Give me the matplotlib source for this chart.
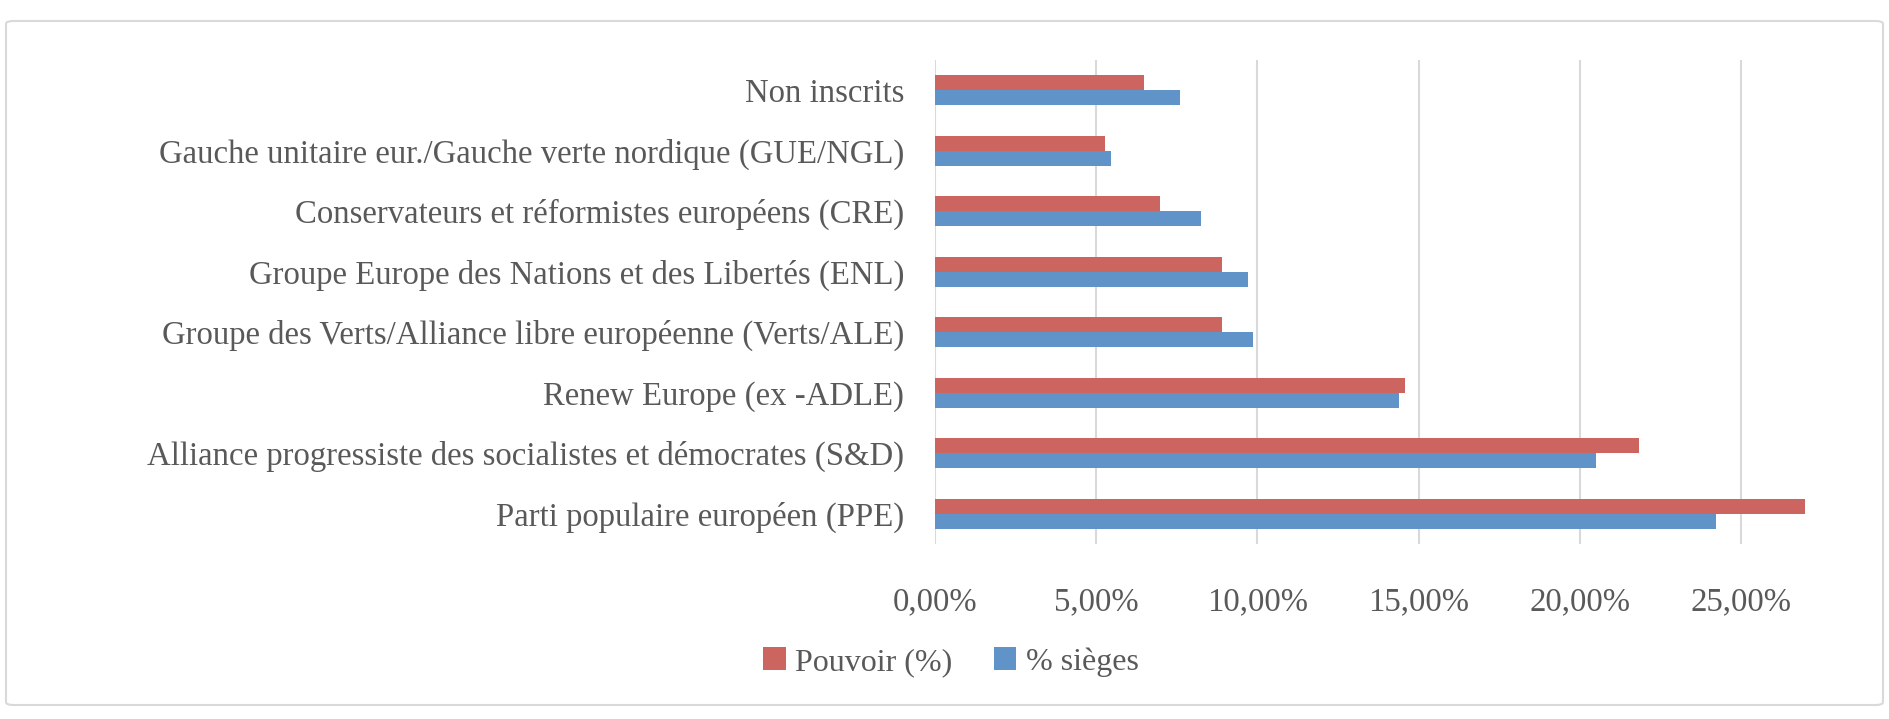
import matplotlib.pyplot as plt
import numpy as np
from matplotlib.patches import FancyBboxPatch
from matplotlib.ticker import FuncFormatter

groupes = [
    "Non inscrits",
    "Gauche unitaire eur./Gauche verte nordique (GUE/NGL)",
    "Conservateurs et réformistes européens (CRE)",
    "Groupe Europe des Nations et des Libertés (ENL)",
    "Groupe des Verts/Alliance libre européenne (Verts/ALE)",
    "Renew Europe (ex -ADLE)",
    "Alliance progressiste des socialistes et démocrates (S&D)",
    "Parti populaire européen (PPE)",
]
pouvoir = [0.0649, 0.0527, 0.0698, 0.0890, 0.0890, 0.1459, 0.2184, 0.2700]
sieges = [0.0759, 0.0546, 0.0826, 0.0972, 0.0985, 0.1438, 0.2051, 0.2423]
xticks = [0, 0.05, 0.10, 0.15, 0.20, 0.25]

rouge = "#CC655F"
bleu = "#6094C9"
gris = "#595959"

plt.rcParams['font.family'] = ['Liberation Serif', 'DejaVu Serif']

fig = plt.figure(figsize=(18.9, 7.19), dpi=100)
ax = fig.add_axes([0.4947, 0.2434, 0.4640, 0.6732])

# cadre arrondi autour du graphique
cadre = FancyBboxPatch((6 / 1890, 14 / 719), 1877 / 1890, 684 / 719,
                       boxstyle="round,pad=0,rounding_size=0.004",
                       transform=fig.transFigure, facecolor="white",
                       edgecolor="#D9D9D9", linewidth=1.5, zorder=-10)
fig.patches.append(cadre)

y = np.arange(len(groupes))
h = 0.25
ax.barh(y - h / 2, pouvoir, height=h, color=rouge, label="Pouvoir (%)", zorder=3)
ax.barh(y + h / 2, sieges, height=h, color=bleu, label="% sièges", zorder=3)

ax.set_ylim(len(groupes) - 0.5, -0.5)
ax.set_xlim(0, 0.272)
ax.set_yticks(y)
ax.set_yticklabels(groupes)
ax.set_xticks(xticks)
ax.xaxis.set_major_formatter(FuncFormatter(lambda v, p: f"{v * 100:.2f}%".replace(".", ",")))
ax.tick_params(axis="both", length=0, colors=gris)
ax.tick_params(axis="y", pad=22, labelsize=23.6)
ax.tick_params(axis="x", pad=31, labelsize=23.6)
ax.grid(axis="x", color="#D9D9D9", linewidth=1.5, zorder=0)
for s in ax.spines.values():
    s.set_visible(False)

leg = fig.legend(loc="center", bbox_to_anchor=(951 / 1890, 1 - 662 / 719), ncol=2,
                 frameon=False, fontsize=23, handlelength=0.7, handleheight=0.7,
                 handletextpad=0.3, columnspacing=1.3)
for t in leg.get_texts():
    t.set_color(gris)

fig.savefig("out.png", dpi=100)
